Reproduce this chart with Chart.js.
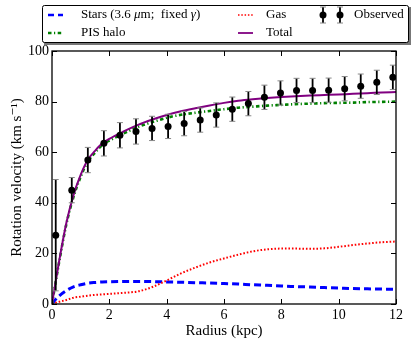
<!DOCTYPE html>
<html>
<head>
  <meta charset="UTF-8">
  <title>Rotation curve</title>
  <script src="https://cdn.jsdelivr.net/npm/chart.js"></script>
  <style>
    html, body { margin: 0; padding: 0; background: #fff; }
  </style>
</head>
<body>
  <canvas id="rotationChart" width="415" height="345"></canvas>

  <script>
    // observed rotation curve
    const obsRadius = [0.13, 0.69, 1.25, 1.81, 2.37, 2.93, 3.49, 4.05, 4.61, 5.17, 5.73,
                       6.29, 6.85, 7.41, 7.97, 8.53, 9.09, 9.65, 10.21, 10.77, 11.33, 11.89];
    const obsVel = [27.2, 45.0, 56.9, 63.5, 66.7, 68.2, 69.4, 70.2, 71.3, 72.7, 74.7,
                    77.0, 79.2, 81.7, 83.4, 84.4, 84.4, 84.5, 85.1, 86.1, 87.6, 89.6];
    const obsErr = [22, 5, 5, 5, 5, 5, 4.8, 4.8, 4.8, 4.8, 4.8,
                    4.8, 4.8, 4.8, 4.8, 4.8, 4.8, 4.8, 4.8, 4.8, 4.8, 4.8];

    // model components
    const curveRadius = [0, 0.1, 0.25, 0.5, 0.75, 1, 1.25, 1.5, 1.75, 2, 2.5, 3, 3.5, 4, 4.5, 5,
                         5.5, 6, 6.5, 7, 7.5, 8, 8.5, 9, 9.5, 10, 10.5, 11, 11.5, 12];
    const starsVel = [0, 1.5, 3.2, 5.3, 6.8, 7.6, 8.2, 8.5, 8.7, 8.8, 8.9, 8.9, 8.85, 8.7, 8.6, 8.4,
                      8.3, 8.1, 7.9, 7.6, 7.4, 7.1, 6.9, 6.7, 6.5, 6.3, 6.1, 6.0, 5.9, 5.8];
    const haloVel = [0, 6.8, 16.6, 31.5, 42.3, 50.3, 56.3, 59.8, 62.8, 64.6, 67.4, 70.0, 71.9, 73.6, 74.8, 75.6,
                     76.3, 77.0, 77.6, 78.0, 78.4, 78.7, 79.0, 79.2, 79.4, 79.5, 79.6, 79.8, 79.9, 80.0];
    const gasVel = [0, 0.4, 0.9, 1.6, 2.5, 2.9, 3.3, 3.6, 3.8, 4.0, 4.4, 5.0, 6.7, 9.3, 12.1, 14.4,
                    16.4, 18.0, 19.5, 20.8, 21.6, 21.9, 21.9, 21.8, 22.0, 22.6, 23.3, 23.9, 24.4, 24.7];
    const totalVel = [0, 7, 17, 32, 43, 51, 57, 60.5, 63.5, 65.3, 68.2, 70.8, 72.9, 74.7, 76.2, 77.4,
                      78.5, 79.5, 80.3, 80.9, 81.4, 81.8, 82.1, 82.4, 82.6, 82.8, 83.1, 83.3, 83.6, 83.8];

    const xTicks = [0, 2, 4, 6, 8, 10, 12];
    const yTicks = [0, 20, 40, 60, 80, 100];

    const SERIF = "'Liberation Serif', 'DejaVu Serif', serif";

    function pts(xs, ys) {
      return xs.map((x, i) => ({ x: x, y: ys[i] }));
    }

    function curve(label, ys, color, width, dash) {
      return {
        label: label,
        data: pts(curveRadius, ys),
        showLine: true,
        borderColor: color,
        borderWidth: width,
        borderDash: dash,
        pointRadius: 0,
        fill: false,
        cubicInterpolationMode: 'monotone'
      };
    }

    // error bars drawn just before the observed markers
    const errorBars = {
      id: 'errorBars',
      beforeDatasetDraw(chart, args) {
        if (chart.data.datasets[args.index].label !== 'Observed') return;
        const { ctx, scales: { x, y } } = chart;
        ctx.save();
        obsRadius.forEach((r, i) => {
          const px = x.getPixelForValue(r);
          const top = y.getPixelForValue(obsVel[i] + obsErr[i]);
          const bot = y.getPixelForValue(obsVel[i] - obsErr[i]);
          ctx.strokeStyle = '#000';
          ctx.lineWidth = 1.8;
          ctx.beginPath();
          ctx.moveTo(px, top);
          ctx.lineTo(px, bot);
          ctx.stroke();
          ctx.strokeStyle = '#888';
          ctx.lineWidth = 1;
          ctx.beginPath();
          ctx.moveTo(px - 3, top);
          ctx.lineTo(px + 3, top);
          ctx.moveTo(px - 3, bot);
          ctx.lineTo(px + 3, bot);
          ctx.stroke();
        });
        ctx.restore();
      }
    };

    // box frame with inward ticks on all four sides
    const frame = {
      id: 'frame',
      afterDatasetsDraw(chart) {
        const { ctx, chartArea: a, scales: { x, y } } = chart;
        ctx.save();
        ctx.strokeStyle = '#000';
        ctx.lineWidth = 1;
        ctx.beginPath();
        xTicks.forEach(v => {
          const px = Math.round(x.getPixelForValue(v)) + 0.5;
          ctx.moveTo(px, a.bottom); ctx.lineTo(px, a.bottom - 5);
          ctx.moveTo(px, a.top); ctx.lineTo(px, a.top + 5);
        });
        yTicks.forEach(v => {
          const py = Math.round(y.getPixelForValue(v)) + 0.5;
          ctx.moveTo(a.left, py); ctx.lineTo(a.left + 5, py);
          ctx.moveTo(a.right, py); ctx.lineTo(a.right - 5, py);
        });
        ctx.stroke();
        ctx.lineWidth = 1.3;
        ctx.strokeRect(a.left, a.top, a.right - a.left, a.bottom - a.top);
        ctx.restore();
      }
    };

    function drawRich(ctx, parts, x, y) {
      parts.forEach(p => {
        ctx.font = (p.italic ? 'italic ' : '') + '13px ' + SERIF;
        ctx.fillText(p.t, x, y);
        x += ctx.measureText(p.t).width;
      });
    }

    function handleLine(ctx, x0, x1, y, color, width, dash) {
      ctx.save();
      ctx.strokeStyle = color;
      ctx.lineWidth = width;
      ctx.setLineDash(dash);
      ctx.beginPath();
      ctx.moveTo(x0, y);
      ctx.lineTo(x1, y);
      ctx.stroke();
      ctx.restore();
    }

    // three-column legend box above the axes
    const legendBox = {
      id: 'legendBox',
      afterDraw(chart) {
        const ctx = chart.ctx;
        ctx.save();
        ctx.fillStyle = '#777';
        ctx.fillRect(44, 7, 367, 38);
        ctx.fillStyle = '#fff';
        ctx.strokeStyle = '#000';
        ctx.lineWidth = 1;
        ctx.beginPath();
        ctx.roundRect(42.5, 5.5, 366, 37, 2);
        ctx.fill();
        ctx.stroke();

        const r1 = 15, r2 = 33;
        handleLine(ctx, 48, 63, r1, '#0000ff', 2.5, [6, 4]);
        handleLine(ctx, 48, 63, r2, '#008000', 2.5, [3.5, 2.5, 1.2, 2.5]);
        handleLine(ctx, 238, 253, r1, '#ff0000', 1.6, [1.5, 1.8]);
        handleLine(ctx, 238, 253, r2, '#800080', 1.8, []);

        [323, 340].forEach(px => {
          ctx.strokeStyle = '#000';
          ctx.lineWidth = 1.8;
          ctx.beginPath();
          ctx.moveTo(px, r1 - 8); ctx.lineTo(px, r1 + 8);
          ctx.stroke();
          ctx.strokeStyle = '#888';
          ctx.lineWidth = 1;
          ctx.beginPath();
          ctx.moveTo(px - 3, r1 - 8); ctx.lineTo(px + 3, r1 - 8);
          ctx.moveTo(px - 3, r1 + 8); ctx.lineTo(px + 3, r1 + 8);
          ctx.stroke();
          ctx.fillStyle = '#000';
          ctx.beginPath();
          ctx.arc(px, r1, 3.5, 0, Math.PI * 2);
          ctx.fill();
        });

        ctx.fillStyle = '#000';
        ctx.textBaseline = 'middle';
        drawRich(ctx, [{ t: 'Stars (3.6 ' }, { t: 'μ', italic: true }, { t: 'm;  fixed ' },
                       { t: 'γ', italic: true }, { t: ')' }], 81, r1);
        drawRich(ctx, [{ t: 'PIS halo' }], 81, r2);
        drawRich(ctx, [{ t: 'Gas' }], 266, r1);
        drawRich(ctx, [{ t: 'Total' }], 266, r2);
        drawRich(ctx, [{ t: 'Observed' }], 354, r1);
        ctx.restore();
      }
    };

    const config = {
      type: 'scatter',
      data: {
        datasets: [
          {
            label: 'Observed',
            data: pts(obsRadius, obsVel),
            pointRadius: 3.5,
            pointBackgroundColor: '#000',
            pointBorderColor: '#000',
            pointBorderWidth: 0,
            showLine: false
          },
          curve('Total', totalVel, '#800080', 2, []),
          curve('Gas', gasVel, '#ff0000', 2, [1.6, 1.9]),
          curve('PIS halo', haloVel, '#008000', 2.6, [3.5, 2.5, 1.2, 2.5]),
          curve('Stars (3.6 μm; fixed γ)', starsVel, '#0000ff', 3, [7, 4])
        ]
      },
      options: {
        responsive: false,
        animation: false,
        layout: { padding: { top: 51, right: 19, left: 0, bottom: 0 } },
        plugins: {
          legend: { display: false },
          tooltip: { enabled: false }
        },
        scales: {
          x: {
            type: 'linear',
            min: 0,
            max: 12,
            afterBuildTicks: s => { s.ticks = xTicks.map(v => ({ value: v })); },
            afterFit: s => { s.height = 41; },
            grid: { display: false, drawTicks: false },
            border: { display: false },
            ticks: { padding: 3, color: '#000', font: { family: SERIF, size: 14 } },
            title: {
              display: true,
              text: 'Radius (kpc)',
              color: '#000',
              font: { family: SERIF, size: 15 },
              padding: { top: 0, bottom: 5 }
            }
          },
          y: {
            type: 'linear',
            min: 0,
            max: 100,
            afterBuildTicks: s => { s.ticks = yTicks.map(v => ({ value: v })); },
            afterFit: s => { s.width = 52; },
            grid: { display: false, drawTicks: false },
            border: { display: false },
            ticks: { padding: 3, color: '#000', font: { family: SERIF, size: 14 } },
            title: {
              display: true,
              text: 'Rotation velocity (km s⁻¹)',
              color: '#000',
              font: { family: SERIF, size: 15 },
              padding: { top: 8, bottom: 0 }
            }
          }
        }
      },
      plugins: [errorBars, frame, legendBox]
    };

    new Chart(document.getElementById('rotationChart'), config);
  </script>
</body>
</html>
